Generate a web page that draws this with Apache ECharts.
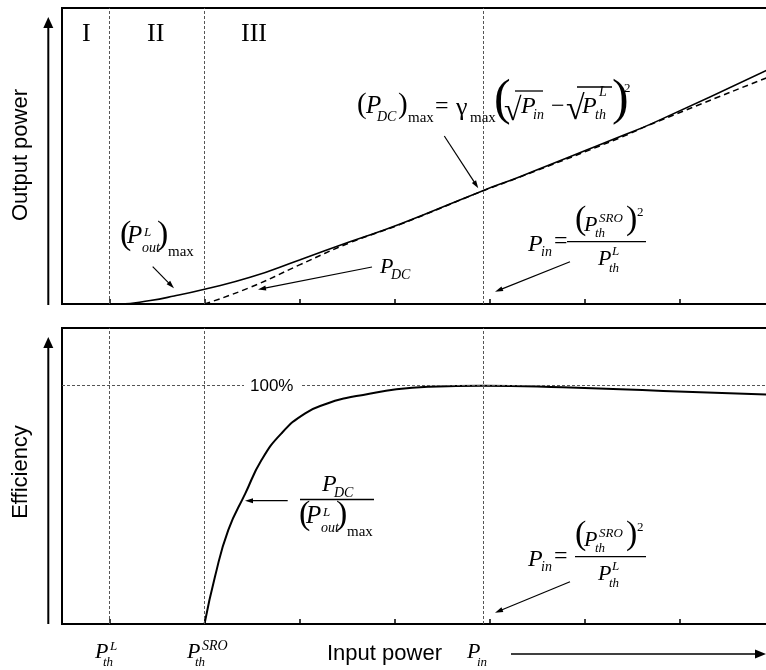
<!DOCTYPE html>
<html>
<head>
<meta charset="utf-8">
<script src="https://cdn.jsdelivr.net/npm/echarts@6/dist/echarts.min.js"></script>
<style>
  html, body { margin: 0; padding: 0; background: #fff; }
  #chart { width: 766px; height: 670px; }
</style>
</head>
<body>
<div id="chart"></div>
<script>
// Input power axis: one tick per unit, P_th^L sits on tick 1 and P_th^SRO on tick 2
const tickValues = [1, 2, 3, 4, 5, 6, 7];
const xMin = 0.5;
const xMax = 7.942;
// Vertical guides: P_th^L, P_th^SRO and P_in = (P_th^SRO)^2 / P_th^L
const thresholds = [1, 2, 4.93];
const fullEfficiency = 100;

// Output power of the laser + SRO device (solid curve), arbitrary units
const pinOut = [1.0, 1.11, 1.43, 1.68, 2.0, 2.48, 3.0, 3.53, 4.06, 4.93, 5.32, 6.37, 6.72, 7.94];
const pOut   = [0, 0, 1.2, 2.7, 5.0, 9.0, 14.9, 21.0, 27.0, 38.3, 43.0, 56.5, 61.1, 79.3];

// P_DC (dashed curve), same units
const pinDc = [2.0, 2.48, 3.0, 3.53, 4.06, 4.93, 5.32, 6.37, 6.72, 7.94];
const pDc   = [0, 5.6, 13.2, 20.7, 26.9, 38.2, 42.9, 56.1, 61.0, 76.7];

// Efficiency P_DC / (P_out^L)_max in percent
const pinEff = [2.0, 2.11, 2.25, 2.43, 2.60, 2.81, 3.06, 3.30, 3.48, 3.67, 4.02, 4.37, 4.93, 5.77, 6.83, 7.94];
const eff    = [0, 19.8, 39.4, 54.8, 68.8, 80.0, 88.4, 92.6, 94.7, 96.1, 98.5, 99.6, 100, 99.3, 97.8, 96.3];

const zip = (xs, ys) => xs.map((x, i) => [x, ys[i]]);

const SERIF = '"Liberation Serif", "DejaVu Serif", serif';
const SANS = '"Liberation Sans", Arial, sans-serif';

// Text placed by its baseline
function tx(s, x, base, size, italic, fam) {
  const family = fam || SERIF;
  const mid = family === SANS ? 0.346 : 0.338;
  return {
    type: 'text', silent: true, z: 60,
    x: x, y: base - mid * size,
    style: {
      text: s,
      font: (italic ? 'italic ' : '') + size + 'px ' + family,
      fill: '#000',
      align: 'left', verticalAlign: 'middle',
      textAlign: 'left', textVerticalAlign: 'middle'
    }
  };
}

function seg(x1, y1, x2, y2, w) {
  return { type: 'line', silent: true, z: 60,
    shape: { x1: x1, y1: y1, x2: x2, y2: y2 },
    style: { stroke: '#000', lineWidth: w || 1.2 } };
}

// Straight arrow with a filled head at (x2, y2)
function arrow(x1, y1, x2, y2, w, hl, hw) {
  const dx = x2 - x1, dy = y2 - y1, L = Math.hypot(dx, dy);
  const ux = dx / L, uy = dy / L;
  const bx = x2 - ux * hl, by = y2 - uy * hl;
  return [
    seg(x1, y1, bx + ux, by + uy, w),
    { type: 'polygon', silent: true, z: 60,
      shape: { points: [[x2, y2], [bx - uy * hw / 2, by + ux * hw / 2], [bx + uy * hw / 2, by - ux * hw / 2]] },
      style: { fill: '#000' } }
  ];
}

// (P_out^L)_max with the opening parenthesis at (ax, base)
function poutMax(ax, ab) {
  return [
    tx('(', ax, ab, 34),
    tx('P', ax + 7, ab - 2, 25, true),
    tx('out', ax + 22, ab + 6, 14, true),
    tx('L', ax + 24, ab - 10, 13, true),
    tx(')', ax + 37, ab, 34),
    tx('max', ax + 48, ab + 10, 15)
  ];
}

// P_in = (P_th^SRO)^2 / P_th^L
function pinFraction(dy, barX1) {
  return [
    tx('P', 528, 253 + dy, 24, true),
    tx('in', 541, 257 + dy, 14, true),
    tx('=', 554, 250 + dy, 24),
    tx('(', 575, 232 + dy, 34),
    tx('P', 584, 233 + dy, 22, true),
    tx('th', 595, 238 + dy, 13, true),
    tx('SRO', 599, 223 + dy, 13, true),
    tx(')', 626, 232 + dy, 34),
    tx('2', 637, 217 + dy, 13),
    seg(barX1, 241.7 + dy, 646, 241.7 + dy, 1.3),
    tx('P', 598, 267 + dy, 22, true),
    tx('th', 609, 273 + dy, 13, true),
    tx('L', 612, 256 + dy, 13, true)
  ];
}

const graphics = [].concat(
  // region numerals
  tx('I', 82, 43, 26),
  tx('II', 147, 43, 26),
  tx('III', 241, 43, 26),

  // axis titles with arrows
  { type: 'text', silent: true, z: 60, x: 21, y: 155, rotation: Math.PI / 2,
    style: { text: 'Output power', font: '22px ' + SANS, fill: '#000',
      align: 'center', verticalAlign: 'middle', textAlign: 'center', textVerticalAlign: 'middle' } },
  { type: 'text', silent: true, z: 60, x: 21, y: 472, rotation: Math.PI / 2,
    style: { text: 'Efficiency', font: '22px ' + SANS, fill: '#000',
      align: 'center', verticalAlign: 'middle', textAlign: 'center', textVerticalAlign: 'middle' } },
  arrow(48.3, 305, 48.3, 17, 2, 11, 10),
  arrow(48.3, 624, 48.3, 337, 2, 11, 10),
  tx('Input power', 327, 662, 22, false, SANS),
  tx('P', 467, 660, 22, true),
  tx('in', 477, 667, 13, true),
  arrow(511, 654, 766, 654, 1.6, 11, 9),

  // threshold labels under the lower panel
  tx('P', 95, 660, 22, true), tx('th', 103, 667, 13, true), tx('L', 110, 651, 13, true),
  tx('P', 187, 660, 22, true), tx('th', 195, 667, 13, true), tx('SRO', 202, 651, 14, true),

  // upper panel annotations
  poutMax(120, 247),
  arrow(152.7, 266.7, 174, 288.3, 1.2, 8, 5),
  tx('P', 380, 275, 22, true), tx('DC', 391, 280, 14, true),
  arrow(372, 267, 258, 289.5, 1.2, 8, 5),

  tx('(', 357, 115, 29), tx('P', 366, 115, 25, true), tx('DC', 377, 122, 14, true),
  tx(')', 398, 115, 29), tx('max', 408, 123, 15), tx('=', 435, 115, 24),
  tx('\u03b3', 456, 117, 26), tx('max', 470, 123, 15),
  tx('(', 494, 118, 50),
  tx('\u221a', 504, 122, 32), seg(515, 91, 543, 91, 1.3),
  tx('P', 521, 115, 24, true), tx('in', 533, 120, 14, true),
  tx('\u2212', 551, 115, 24),
  tx('\u221a', 566, 122, 34), seg(577, 87, 612, 87, 1.3),
  tx('P', 582, 115, 24, true), tx('th', 595, 120, 14, true), tx('L', 599, 97, 14, true),
  tx(')', 612, 118, 50), tx('2', 624, 93, 13),
  arrow(444.3, 136, 478.3, 188.3, 1.2, 8, 5),

  pinFraction(0, 567),
  arrow(570, 261.7, 495, 291.7, 1.2, 8, 5),

  // lower panel annotations
  { type: 'rect', silent: true, z: 55, shape: { x: 244, y: 380, width: 56, height: 11 }, style: { fill: '#fff' } },
  tx('100%', 250, 392, 17, false, SANS),
  tx('P', 322, 493, 24, true), tx('DC', 334, 498, 14, true),
  seg(300, 499.5, 374, 499.5, 1.3),
  poutMax(299, 527),
  arrow(287.7, 500.7, 245, 500.7, 1.2, 8, 5),

  pinFraction(315, 575),
  arrow(570, 581.7, 495, 612.7, 1.2, 8, 5)
);

const guideStyle = { color: '#555', width: 1, type: [3, 2] };
const vGuides = thresholds.map(v => ({ xAxis: v }));

function xAxisFor(i) {
  return {
    gridIndex: i, type: 'value', min: xMin, max: xMax,
    axisLine: { show: false },
    axisTick: { show: true, inside: true, length: 5, customValues: tickValues,
      lineStyle: { color: '#000', width: 1.5 } },
    axisLabel: { show: false },
    splitLine: { show: false }
  };
}

function yAxisFor(i, max) {
  return {
    gridIndex: i, type: 'value', min: 0, max: max,
    axisLine: { show: false }, axisTick: { show: false },
    axisLabel: { show: false }, splitLine: { show: false }
  };
}

const gridBase = { left: 62, width: 707, height: 296, show: true,
  borderColor: '#000', borderWidth: 2, outerBoundsMode: 'none', containLabel: false };

const chart = echarts.init(document.getElementById('chart'), null, { renderer: 'canvas' });
chart.setOption({
  animation: false,
  backgroundColor: '#fff',
  grid: [
    Object.assign({ top: 8 }, gridBase),
    Object.assign({ top: 328 }, gridBase)
  ],
  xAxis: [xAxisFor(0), xAxisFor(1)],
  yAxis: [yAxisFor(0, 100), yAxisFor(1, 124.2)],
  series: [
    {
      name: 'Output power', type: 'line', xAxisIndex: 0, yAxisIndex: 0,
      data: zip(pinOut, pOut), symbol: 'none', smooth: 0.5,
      lineStyle: { color: '#000', width: 1.6 },
      markLine: { silent: true, symbol: ['none', 'none'], label: { show: false },
        lineStyle: guideStyle, data: vGuides }
    },
    {
      name: 'P_DC', type: 'line', xAxisIndex: 0, yAxisIndex: 0,
      data: zip(pinDc, pDc), symbol: 'none', smooth: 0.5,
      lineStyle: { color: '#000', width: 1.5, type: [6, 4] }
    },
    {
      name: 'Efficiency', type: 'line', xAxisIndex: 1, yAxisIndex: 1,
      data: zip(pinEff, eff), symbol: 'none', smooth: 0.5,
      lineStyle: { color: '#000', width: 2 },
      markLine: { silent: true, symbol: ['none', 'none'], label: { show: false },
        lineStyle: guideStyle, data: vGuides.concat([{ yAxis: fullEfficiency }]) }
    }
  ],
  graphic: graphics
});
</script>
</body>
</html>
